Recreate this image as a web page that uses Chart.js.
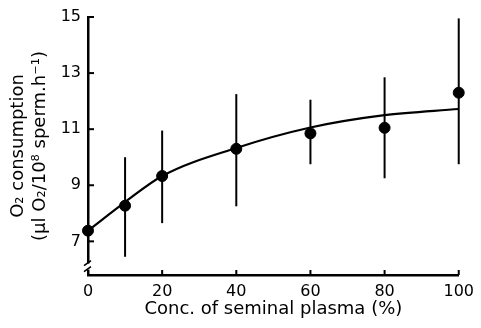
<!DOCTYPE html>
<html>
<head>
<meta charset="utf-8">
<script src="https://cdn.jsdelivr.net/npm/chart.js@4"></script>
<style>
  html, body { margin: 0; padding: 0; background: #fff; }
  #wrap { width: 481px; height: 328px; }
</style>
</head>
<body>
<div id="wrap"><canvas id="chart" width="481" height="328"></canvas></div>
<script>
// measured points (concentration of seminal plasma, %)
const conc = [0, 10, 20, 40, 60, 80, 100];
const o2Mean = [7.38, 8.27, 9.33, 10.3, 10.85, 11.05, 12.3];
const o2High = [7.38, 10.0, 10.95, 12.25, 12.05, 12.85, 14.95];
const o2Low = [7.38, 6.45, 7.65, 8.25, 9.75, 9.25, 9.75];

// fitted curve
const curveX = [0, 10, 20, 40, 60, 80, 100];
const curveY = [7.38, 8.4, 9.33, 10.33, 11.06, 11.5, 11.72];

const xTicks = [0, 20, 40, 60, 80, 100];
const yTicks = [7, 9, 11, 13, 15];
const axisBreak = 6.1;

const FONT = '"DejaVu Sans", "Liberation Sans", Arial, sans-serif';

// vertical error bars
const errorBars = {
    id: 'errorBars',
    beforeDatasetsDraw(chart) {
        const {ctx, scales: {x, y}} = chart;
        ctx.save();
        ctx.strokeStyle = '#000';
        ctx.lineWidth = 2;
        conc.forEach((c, i) => {
            const px = x.getPixelForValue(c);
            ctx.beginPath();
            ctx.moveTo(px, y.getPixelForValue(o2High[i]));
            ctx.lineTo(px, y.getPixelForValue(o2Low[i]));
            ctx.stroke();
        });
        ctx.restore();
    }
};

// inward tick marks + axis break on the y axis
const axisDecor = {
    id: 'axisDecor',
    afterDraw(chart) {
        const {ctx, scales: {x, y}} = chart;
        ctx.save();
        ctx.strokeStyle = '#000';
        ctx.lineWidth = 2;
        y.ticks.forEach(t => {
            const py = y.getPixelForValue(t.value);
            ctx.beginPath();
            ctx.moveTo(x.left, py);
            ctx.lineTo(x.left + 6, py);
            ctx.stroke();
        });
        x.ticks.forEach(t => {
            if (t.value === 0) return;
            const px = x.getPixelForValue(t.value);
            ctx.beginPath();
            ctx.moveTo(px, y.bottom);
            ctx.lineTo(px, y.bottom - 5);
            ctx.stroke();
        });
        const bx = y.right;
        const by = y.getPixelForValue(axisBreak);
        ctx.fillStyle = '#fff';
        ctx.fillRect(bx - 3, by - 3, 6, 6);
        ctx.lineWidth = 1.6;
        ctx.beginPath();
        ctx.moveTo(bx - 4, by - 1);
        ctx.lineTo(bx + 3, by - 6);
        ctx.moveTo(bx - 4, by + 5);
        ctx.lineTo(bx + 3, by);
        ctx.stroke();
        ctx.restore();
    }
};

const ctx = document.getElementById('chart').getContext('2d');
new Chart(ctx, {
    data: {
        datasets: [{
            type: 'scatter',
            data: conc.map((c, i) => ({x: c, y: o2Mean[i]})),
            backgroundColor: '#000',
            borderColor: '#000',
            pointRadius: 5.5,
            pointHoverRadius: 5.5,
            clip: false
        }, {
            type: 'line',
            data: curveX.map((c, i) => ({x: c, y: curveY[i]})),
            borderColor: '#000',
            borderWidth: 2.2,
            pointRadius: 0,
            fill: false,
            cubicInterpolationMode: 'monotone',
            clip: false
        }]
    },
    options: {
        responsive: false,
        animation: false,
        events: [],
        layout: {
            padding: {top: 17, right: 19, left: 4, bottom: 2}
        },
        plugins: {
            legend: {display: false},
            tooltip: {enabled: false}
        },
        scales: {
            x: {
                type: 'linear',
                min: 0,
                max: 100,
                afterBuildTicks: s => { s.ticks = xTicks.map(v => ({value: v})); },
                afterFit: s => { s.height = 51; },
                grid: {display: true, drawOnChartArea: false, drawTicks: false},
                border: {display: true, color: '#000', width: 2.5},
                ticks: {
                    color: '#000',
                    padding: 7,
                    maxRotation: 0,
                    font: {family: FONT, size: 16}
                },
                title: {
                    display: true,
                    text: 'Conc. of seminal plasma (%)',
                    color: '#000',
                    padding: {top: 0, bottom: 6},
                    font: {family: FONT, size: 18}
                }
            },
            y: {
                type: 'linear',
                min: 5.8,
                max: 15,
                afterBuildTicks: s => { s.ticks = yTicks.map(v => ({value: v})); },
                afterFit: s => { s.width = 84; },
                grid: {display: true, drawOnChartArea: false, drawTicks: false},
                border: {display: true, color: '#000', width: 2.5},
                ticks: {
                    color: '#000',
                    padding: 7,
                    font: {family: FONT, size: 16}
                },
                title: {
                    display: true,
                    text: ['O\u2082 consumption', '(\u00b5l O\u2082/10\u2078 sperm.h\u207b\u00b9)'],
                    color: '#000',
                    padding: {top: 4, bottom: 0},
                    font: {family: FONT, size: 18, lineHeight: 1.2}
                }
            }
        }
    },
    plugins: [errorBars, axisDecor]
});
</script>
</body>
</html>
